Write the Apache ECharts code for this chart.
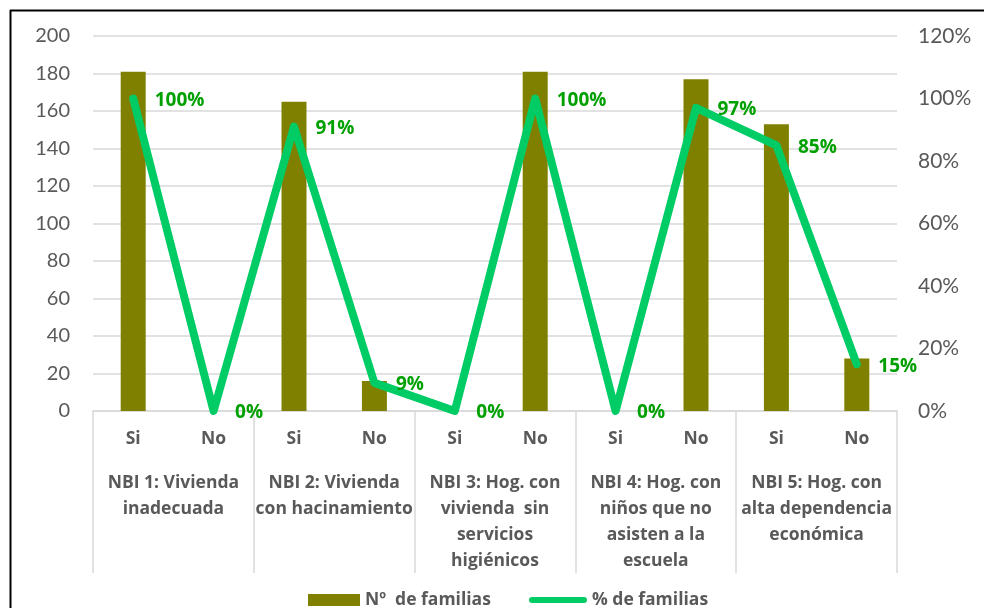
<!DOCTYPE html>
<html lang="es">
<head>
    <meta charset="UTF-8">
    <title>NBI</title>
    <style>
        html, body { margin: 0; padding: 0; background: #fff; }
        #main { width: 984px; height: 608px; }
    </style>
</head>
<body>
    <div id="main"></div>
    <script src="https://cdn.jsdelivr.net/npm/echarts@6/dist/echarts.min.js"></script>
    <script>
        // datos
        let subCats = ['Si', 'No', 'Si', 'No', 'Si', 'No', 'Si', 'No', 'Si', 'No']
        let groups = [
            'NBI 1: Vivienda\ninadecuada',
            'NBI 2: Vivienda\ncon hacinamiento',
            'NBI 3: Hog. con\nvivienda  sin\nservicios\nhigiénicos',
            'NBI 4: Hog. con\nniños que no\nasisten a la\nescuela',
            'NBI 5: Hog. con\nalta dependencia\neconómica'
        ]
        let familias = [181, 0, 165, 16, 0, 181, 0, 177, 153, 28]
        let porcentaje = [1.00, 0, 0.91, 0.09, 0, 1.00, 0, 0.97, 0.85, 0.15]
        let leftTicks = [0, 200, 20]
        let rightTicks = [0, 1.2, 0.2]

        const FONT = 'Lato, "Open Sans", sans-serif'
        const BOLD = '"Open Sans", Lato, sans-serif'
        const GRAY = '#595959'
        const OLIVE = '#808000'
        const GREEN = '#00cc66'

        let chart = echarts.init(document.getElementById('main'))

        let option = {
            animation: false,
            textStyle: { fontFamily: FONT },
            grid: { left: 93, right: 87, top: 36, bottom: 197 },
            graphic: [
                { type: 'line', shape: { x1: 10, y1: 10.5, x2: 984, y2: 10.5 }, style: { stroke: '#000', lineWidth: 2 } },
                { type: 'line', shape: { x1: 10.5, y1: 10, x2: 10.5, y2: 608 }, style: { stroke: '#000', lineWidth: 2 } }
            ],
            legend: [
                {
                    data: ['Nº  de familias'],
                    left: 303, top: 586,
                    icon: 'rect', itemWidth: 52, itemHeight: 12, itemGap: 6,
                    textStyle: { color: GRAY, fontSize: 17.5, fontWeight: 'bold', fontFamily: BOLD }
                },
                {
                    data: ['% de familias'],
                    left: 524, top: 586,
                    icon: 'path://M3,0 L55,0 A3,3 0 0 1 55,6 L3,6 A3,3 0 0 1 3,0 Z',
                    itemWidth: 58, itemHeight: 6, itemGap: 2,
                    textStyle: { color: GRAY, fontSize: 17.5, fontWeight: 'bold', fontFamily: BOLD }
                }
            ],
            xAxis: [
                {
                    type: 'category',
                    data: subCats,
                    axisLine: { lineStyle: { color: '#d9d9d9', width: 1.5 } },
                    axisTick: { show: false },
                    axisLabel: { color: GRAY, fontSize: 17.5, fontWeight: 'bold', margin: 19, fontFamily: BOLD }
                },
                {
                    type: 'category',
                    data: groups,
                    position: 'bottom',
                    axisLine: { show: false },
                    axisTick: { show: true, length: 162, alignWithLabel: false, lineStyle: { color: '#d9d9d9', width: 1.5 } },
                    axisLabel: {
                        interval: 0,
                        color: GRAY, fontSize: 17.5, fontWeight: 'bold', margin: 59,
                        lineHeight: 26, verticalAlign: 'top', fontFamily: BOLD
                    }
                }
            ],
            yAxis: [
                {
                    type: 'value',
                    min: leftTicks[0], max: leftTicks[1], interval: leftTicks[2],
                    axisLine: { show: false },
                    axisTick: { show: false },
                    splitLine: { lineStyle: { color: '#d9d9d9', width: 1.5 } },
                    axisLabel: { color: GRAY, fontSize: 20, margin: 23, fontFamily: FONT }
                },
                {
                    type: 'value',
                    min: rightTicks[0], max: rightTicks[1], interval: rightTicks[2],
                    axisLine: { show: false },
                    axisTick: { show: false },
                    splitLine: { show: false },
                    axisLabel: {
                        color: GRAY, fontSize: 21, margin: 21, fontFamily: FONT,
                        formatter: v => Math.round(v * 100) + '%'
                    }
                }
            ],
            series: [
                {
                    name: 'Nº  de familias',
                    type: 'bar',
                    xAxisIndex: 0, yAxisIndex: 0,
                    barWidth: 25,
                    itemStyle: { color: OLIVE },
                    data: familias
                },
                {
                    name: '% de familias',
                    type: 'line',
                    xAxisIndex: 0, yAxisIndex: 1,
                    symbol: 'circle', symbolSize: 1, showSymbol: true,
                    lineStyle: { color: GREEN, width: 8, join: 'round', cap: 'round' },
                    itemStyle: { color: GREEN },
                    label: {
                        show: true, position: 'right', distance: 21, offset: [0, 2],
                        color: '#00a000', fontSize: 19, fontWeight: 'bold', fontFamily: BOLD,
                        formatter: p => Math.round(p.value * 100) + '%'
                    },
                    data: porcentaje
                }
            ]
        }
        chart.setOption(option)
    </script>
</body>
</html>
